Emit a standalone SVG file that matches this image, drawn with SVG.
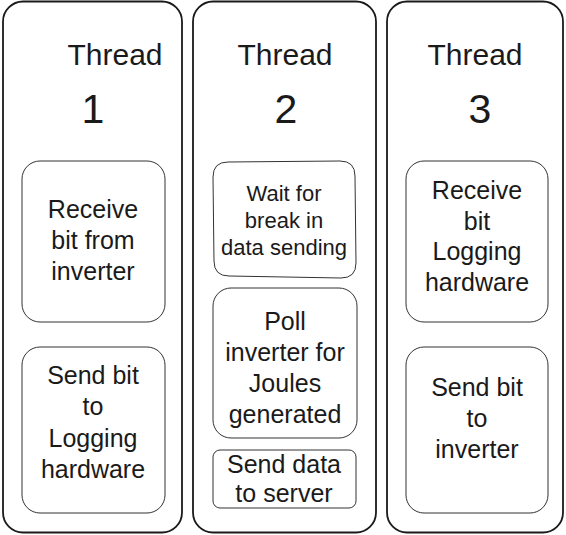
<svg xmlns="http://www.w3.org/2000/svg" width="566" height="535" viewBox="0 0 566 535">
<style>
.outer{fill:#fff;stroke:#1a1a1a;stroke-width:1.8}
.inner{fill:#fff;stroke:#333;stroke-width:1}
text{font-family:"Liberation Sans",Arial,sans-serif;fill:#1a1a1a;text-anchor:middle}
.big{font-size:30px}
.num{font-size:41px}
.t{font-size:25px}
.s{font-size:22px}
.m{font-size:25px}
</style>
<rect width="566" height="535" fill="#fff"/>
<g id="thread1">
<rect class="outer" x="3" y="1.5" width="179" height="531" rx="20"/>
<text class="big" x="115" y="65">Thread</text>
<text class="num" x="93" y="123">1</text>
</g>
<g id="thread2">
<rect class="outer" x="193" y="1.5" width="183" height="531" rx="20"/>
<text class="big" x="285" y="65">Thread</text>
<text class="num" x="286" y="123">2</text>
</g>
<g id="thread3">
<rect class="outer" x="387" y="1.5" width="176" height="531" rx="20"/>
<text class="big" x="475" y="65">Thread</text>
<text class="num" x="480" y="123">3</text>
</g>
<g id="t1-receive">
<rect class="inner" x="22" y="161" width="143" height="161" rx="18"/>
<text class="t" x="93" y="218">Receive</text>
<text class="t" x="93" y="249">bit from</text>
<text class="t" x="93" y="280">inverter</text>
</g>
<g id="t1-send">
<rect class="inner" x="22" y="347" width="143" height="166" rx="18"/>
<text class="t" x="93" y="384">Send bit</text>
<text class="t" x="93" y="415">to</text>
<text class="t" x="93" y="447">Logging</text>
<text class="t" x="93" y="478">hardware</text>
</g>
<g id="t2-wait">
<path class="inner" d="M228,162 L340,161 Q355,161 355,176 L356,263 Q356,278 341,278 L229,276 Q214,276 214,261 L213,177 Q213,162 228,162 Z"/>
<text class="s" x="284" y="201">Wait for</text>
<text class="s" x="284" y="228">break in</text>
<text class="s" x="284" y="255">data sending</text>
</g>
<g id="t2-poll">
<rect class="inner" x="213" y="288" width="144" height="150" rx="18"/>
<text class="t" x="285" y="330">Poll</text>
<text class="t" x="285" y="361">inverter for</text>
<text class="t" x="285" y="392">Joules</text>
<text class="t" x="285" y="423">generated</text>
</g>
<g id="t2-send">
<rect class="inner" x="213" y="450" width="143" height="58" rx="7"/>
<text class="m" x="284" y="473">Send data</text>
<text class="m" x="284" y="502">to server</text>
</g>
<g id="t3-receive">
<rect class="inner" x="406" y="161" width="142" height="161" rx="18"/>
<text class="t" x="477" y="199">Receive</text>
<text class="t" x="477" y="230">bit</text>
<text class="t" x="477" y="260">Logging</text>
<text class="t" x="477" y="291">hardware</text>
</g>
<g id="t3-send">
<rect class="inner" x="406" y="347" width="142" height="166" rx="18"/>
<text class="t" x="477" y="396">Send bit</text>
<text class="t" x="477" y="427">to</text>
<text class="t" x="477" y="458">inverter</text>
</g>
<g id="connectors"/>
</svg>
